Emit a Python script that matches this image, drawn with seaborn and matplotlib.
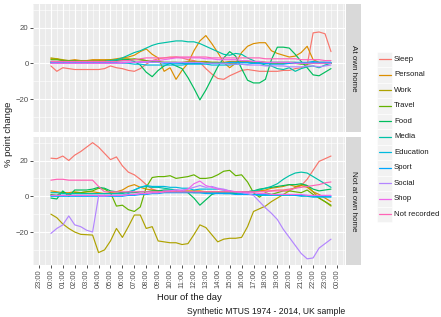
import matplotlib
matplotlib.use("Agg")
import matplotlib.pyplot as plt
import matplotlib.patches as mpatches
import pandas as pd
import seaborn as sns

# ---------------- data ----------------
times = ["00:00", "00:30", "01:00", "01:30", "02:00", "02:30", "03:00", "03:30",
         "04:00", "04:30", "05:00", "05:30", "06:00", "06:30", "07:00", "07:30",
         "08:00", "08:30", "09:00", "09:30", "10:00", "10:30", "11:00", "11:30",
         "12:00", "12:30", "13:00", "13:30", "14:00", "14:30", "15:00", "15:30",
         "16:00", "16:30", "17:00", "17:30", "18:00", "18:30", "19:00", "19:30",
         "20:00", "20:30", "21:00", "21:30", "22:00", "22:30", "23:00", "23:30"]

categories = ["Sleep", "Personal", "Work", "Travel", "Food", "Media",
              "Education", "Sport", "Social", "Shop", "Not recorded"]
palette = ["#F8766D", "#DB8E00", "#AEA200", "#64B200", "#00BD5C", "#00C1A7",
           "#00BADE", "#00A6FF", "#B385FF", "#EF67EB", "#FF63B6"]
locations = ["At own home", "Not at own home"]

tick_labels = ["23:00", "00:00", "01:00", "02:00", "03:00", "04:00", "05:00",
               "06:00", "07:00", "08:00", "09:00", "10:00", "11:00", "12:00",
               "13:00", "14:00", "15:00", "16:00", "17:00", "18:00", "19:00",
               "20:00", "21:00", "22:00", "23:00", "00:00"]

# At own home
own_sleep = [-1.5, -4.5, -2.5, -3, -3.5, -3.5, -3.5, -3.5,
             -3.5, -3, -1.5, -2.5, -3, -4, -4.5, -3,
             -0.5, 1.5, 2.5, 3, 3.5, 3.5, 3, 2,
             1.5, 0.5, -3, -6, -8.5, -9, -7, -5.5,
             -4, -3.5, -4, -4.5, -4.5, -4.5, -4.5, -4,
             -4, -3, -2.5, -1, 17, 17.5, 16.5, 6.5]
own_personal = [2.5, 2.5, 1.5, 1.5, 2, 1.5, 1.5, 2,
                2, 2, 2, 2.5, 3, 3.5, 4.5, 6.5,
                8, 5, 3, -4.5, -2.5, -9, -4, 0,
                7, 12.5, 15.5, 11, 6, 0.5, -2.5, 0,
                6, 9.5, 11, 11.5, 11.5, 7, 5.5, 4.5,
                3.5, 4, 6, 9.5, 2, 0.5, 0.5, 0]
own_work = [3, 2.5, 2, 1.5, 1.5, 1.5, 1.5, 1.5,
            1.5, 1.5, 2, 2, 2.5, 2.5, 2, 2,
            1.5, 1, 1, 0.5, 0.5, 0.5, 0.5, 1,
            1, 1, 1, 0.5, 0.5, 0.5, 1, 1,
            1, 1, 1, 1, 0.5, 0.5, 0.5, 0.5,
            0.5, 0.5, 0, 0, 0, 0, 0, 0]
own_travel = [2, 2, 1.5, 1.5, 1.5, 1, 1, 1,
              1, 1, 1.5, 1.5, 1.5, 2, 2.5, 2,
              1.5, 1, 0.5, 0.5, 0.5, 0.5, 0, 0,
              0, 0, 0.5, 0.5, 0.5, 0, 0, 0,
              0.5, 0.5, 0.5, 0.5, 0.5, 0, 0, 0,
              0, 0, -0.5, -0.5, 0, 0, 0, 0]
own_food = [0.5, 0.5, 0.5, 0.5, 0.5, 0.5, 0.5, 0.5,
            0.5, 1, 1, 1.5, 2, 2, 1, -1,
            -5, -7.5, -4, -1.5, 0, -1.5, -3, -8,
            -14, -20.5, -15, -8.5, -2, 3, 6.5, 4,
            -3, -9.5, -11, -11, -9, 2, 9, 9,
            8.5, 5, 1, -2.5, -6.5, -7, -5, -3]
own_media = [1, 1, 1, 1, 1, 1, 1, 1,
             1, 1, 1.5, 2, 3, 4.5, 6, 7,
             8.5, 10, 11, 11.5, 12, 12.5, 12.5, 12,
             12, 11, 9.5, 8, 6.5, 5, 4.5, 5.5,
             5, 3, 1.5, 0, -1, -1.5, -3, -3.5,
             -2.5, -4.5, -3, -2, -1.5, -2.5, -1, 0]
own_education = [0, 0, 0, 0, 0, 0, 0, 0,
                 0, 0, 0, 0, 0, 0, -0.5, -0.5,
                 -1, -1, -1, -1, -1, -1, -1, -0.5,
                 -0.5, -0.5, -0.5, -1, -1, -1, -1, -0.5,
                 -0.5, -0.5, 0, 0, 0, 0.5, 0.5, 0.5,
                 0.5, 0.5, 0.5, 0.5, 1, 0.5, 0.5, 0.5]
own_sport = [0.5, 0.5, 0.5, 0.5, 0.5, 0.5, 0.5, 0.5,
             0.5, 0.5, 0.5, 0.5, 0.5, 0.5, 0.5, 0.5,
             0.5, 0.5, 0.5, 0, 0, 0, 0, 0,
             0, 0, 0, 0, 0, 0, 0.5, 0.5,
             0.5, 0.5, 0, 0, 0, -0.5, -0.5, -0.5,
             0, 0, 0, 0, 0.5, 0.5, 0.5, 0.5]
own_social = [0, 0, 0, 0, 0, 0, 0, 0,
              0, 0, 0, 0, 0, 0.5, 0.5, 0.5,
              0.5, 0.5, 0.5, 0.5, 0.5, 0.5, 0.5, 0.5,
              0.5, 0.5, 0, 0, 0, 0, -0.5, -0.5,
              -0.5, -1, -1, -1, -1.5, -1.5, -1.5, -1.5,
              -2, -2, -2, -1.5, -1.5, -2, -1.5, -1]
own_shop = [0, 0, 0, 0, 0, 0, 0, 0,
            0, 0, 0, 0, 0.5, 0.5, 0.5, 1,
            1, 1.5, 1.5, 2, 2.5, 3, 3, 3,
            3, 3, 2.5, 2.5, 2, 2, 2, 2,
            1.5, 1.5, 1, 1, 0.5, 0.5, 0.5, 0.5,
            0.5, 0, 0, 0, 0, 0, 0, 0]
own_notrec = [1, 1, 1, 1, 1, 1, 1, 1,
              1, 1, 1, 1, 1.5, 1.5, 2, 2.5,
              3, 3, 3, 3, 3, 3.5, 3.5, 3.5,
              3.5, 3.5, 3.5, 3, 3, 3, 3, 3,
              3, 3, 3, 3, 2.5, 2.5, 2.5, 2.5,
              2.5, 2.5, 2, 2, 2, 2, 1.5, 1.5]

# Not at own home
away_sleep = [21.3, 21, 22.5, 20, 23, 25, 27.5, 30,
              27.5, 24, 20.5, 22, 17, 13.5, 12, 9.5,
              6.5, 4, 3, 2.5, 2.5, 2.5, 2.5, 2.5,
              2.5, 2.5, 2.5, 2.5, 2.5, 2.5, 2.5, 2.5,
              2.5, 2.5, 3, 3, 3, 3, 3.5, 3.5,
              4, 4.5, 6, 9.5, 14.5, 19.5, 21, 22.5]
away_personal = [3, 2.5, 2, 2, 2.5, 2, 2.5, 2.5,
                 2, 1.5, 2, 2.5, 3.5, 5.5, 6.5, 5,
                 4, 3.5, 3, 3, 3, 3, 3, 3,
                 3, 3, 2.5, 2.5, 2.5, 2.5, 2.5, 2.5,
                 2.5, 2.5, 2.5, 3, 3.5, 4.5, 5, 5.5,
                 6.5, 5.5, 6, 5, 2.5, 1, -1, -3]
away_work = [-10, -12, -15.5, -18, -20, -21.3, -21.5, -21.7,
             -31.5, -30, -25, -18, -23, -17, -10.5, -10.5,
             -18, -17, -25, -25.5, -26, -26, -27, -26.5,
             -21.5, -16, -17.5, -21.5, -25.5, -24, -23.5, -23.5,
             -23, -17, -8.5, -7, -5.5, -3, -1, 1,
             3, 5, 6.5, 6, 2.5, -1, -3, -5.5]
away_travel = [1, 0.5, 2.5, 1, 2, 2, 2.5, 3,
               4.5, 4, 2, -5.5, -5, -7.5, -8.5, -6,
               5, 10.5, 11, 11, 11.5, 10, 10.5, 11,
               12, 10, 10, 10.5, 12, 14, 14.5, 11.5,
               12, 8, 2, -0.5, 2, 1, 2, 3,
               3, 2.5, 2, 3.5, 1, -1, -3, -5]
away_food = [-1, -1.5, 3, 0, 3.5, 3.5, 3.5, 4,
             5, 4.5, 3, 2.5, 2, 2, 2, 2.5,
             2.5, 3, 3, 3.5, 3.5, 3, 3, 2,
             -1, -5, -2, 1, 2, 1.5, 1.5, 1.5,
             2, 2.5, 3, 4, 4.5, 5, 5.5, 6,
             6.5, 6.5, 7, 6, 4, 3, 3.5, 4]
away_media = [2, 2, 1.5, 1.5, 1.5, 1.5, 1.5, 1.5,
              1.5, 1.5, 1.5, 1.5, 1.5, 2.5, 3.5, 5,
              5.5, 5, 5, 4.5, 4, 3.5, 3, 2.5,
              2, 2, 2, 2, 2, 2, 2, 2,
              2, 2.5, 3, 3.5, 4.5, 5.5, 7, 9.5,
              11.5, 13, 13.5, 13, 11, 9, 7, 5]
away_education = [0.5, 0.5, 0.5, 0.5, 0.5, 0.5, 0.5, 0.5,
                  0.5, 0.5, 0.5, 0.5, 0.5, 1.5, 3.5, 5,
                  6, 5.5, 5.5, 5.5, 5, 5, 4.5, 4.5,
                  3.5, 4, 4, 4, 4, 3.5, 3, 2,
                  1.5, 1, 1, 0.5, 0.5, 0.5, 0.5, 0.5,
                  0.5, 0.5, 0, 0, -0.5, -0.5, -0.5, -0.5]
away_sport = [0, 0, 0, 0, 0, 0, 0, 0,
              0, 0, 0, 0, 0, 0.5, 0.5, 1,
              1, 1.5, 1.5, 2, 2, 2, 2, 2,
              2, 2, 1.5, 1.5, 1.5, 1.5, 1.5, 1,
              1, 1, 1, 1, 1, 1, 1, 1,
              1, 0.5, 0.5, 0.5, 0, 0, 0, 0]
away_social = [-20.8, -18, -16, -11, -16, -17, -19, -20,
               0, 0, 0.5, 0.5, 0.5, 1, 1, 1.5,
               1.5, 2, 2, 3, 3, 3.5, 3.5, 4,
               5, 6, 5, 5.5, 4.5, 4, 3, 2.5,
               2, 1.5, 0.5, -3, -6.5, -9.5, -13, -18.5,
               -23, -27.5, -32, -35, -34.5, -29, -26.5, -24]
away_shop = [0.5, 0.5, 0.5, 0.5, 0.5, 0.5, 0.5, 0.5,
             0.5, 0.5, 0.5, 0.5, 0.5, 1, 1, 1.5,
             1.5, 2, 2, 2.5, 3, 3.5, 3, 4,
             7, 8.5, 6, 5, 4, 3.5, 3, 2.5,
             2.5, 2, 2, 1.5, 1.5, 1, 1, 1,
             1, 1, 1, 0.5, 0.5, 0.5, 0.5, 0.5]
away_notrec = [9, 9.5, 9.5, 9, 9, 9, 9, 9,
               5.5, 2.5, 2.5, 2.5, 2.5, 2.5, 2.5, 2.5,
               2.5, 2.5, 2.5, 2.5, 2.5, 2.5, 2.5, 2.5,
               2.5, 2.5, 2.5, 2.5, 2.5, 2.5, 2.5, 2.5,
               2.5, 2.5, 2.5, 2.5, 2.5, 3, 3, 3,
               3.5, 4.5, 5, 5.5, 6, 6.5, 7.5, 8]

own_series = [own_sleep, own_personal, own_work, own_travel, own_food, own_media,
              own_education, own_sport, own_social, own_shop, own_notrec]
away_series = [away_sleep, away_personal, away_work, away_travel, away_food, away_media,
               away_education, away_sport, away_social, away_shop, away_notrec]

hours = [int(t[:2]) + int(t[3:]) / 60 for t in times]
rows = []
for loc, series in zip(locations, [own_series, away_series]):
    for cat, vals in zip(categories, series):
        for h, v in zip(hours, vals):
            rows.append({"location": loc, "activity": cat, "hour": h, "change": v})
df = pd.DataFrame(rows)

# ---------------- figure ----------------
sns.set_theme(style="darkgrid")
plt.rcParams["font.family"] = ["Liberation Sans", "DejaVu Sans"]

W, H = 441, 317
fig = plt.figure(figsize=(W / 100, H / 100), dpi=100)
fig.patch.set_facecolor("white")

def px_axes(x0, y0, x1, y1):
    return fig.add_axes([x0 / W, 1 - y1 / H, (x1 - x0) / W, (y1 - y0) / H])

panel_boxes = [(33, 4, 345, 132), (33, 137, 345, 265)]
xlim = (-1.175, 24.675)
ylim = (-38.45, 33.15)
grey30 = "#4D4D4D"

for i, (loc, box) in enumerate(zip(locations, panel_boxes)):
    ax = px_axes(*box)
    ax.set_facecolor("#EBEBEB")
    sub = df[df["location"] == loc]
    sns.lineplot(data=sub, x="hour", y="change", hue="activity",
                 hue_order=categories, palette=palette, ax=ax,
                 legend=False, linewidth=0.85, estimator=None)
    ax.set_xlim(*xlim)
    ax.set_ylim(*ylim)
    ax.set_xticks(range(-1, 25))
    ax.set_xticks([k + 0.5 for k in range(-2, 25)], minor=True)
    ax.set_yticks([-20, 0, 20])
    ax.set_yticks([-30, -10, 10, 30], minor=True)
    ax.grid(which="major", color="white", linewidth=0.8)
    ax.grid(which="minor", color="white", linewidth=0.4)
    ax.set_axisbelow(True)
    for s in ax.spines.values():
        s.set_visible(False)
    ax.set_xlabel("")
    ax.set_ylabel("")
    ax.tick_params(axis="y", which="major", length=2, width=0.6, color="#333333",
                   labelsize=5.6, labelcolor=grey30, pad=1.2, left=True)
    ax.tick_params(which="minor", length=0)
    if i == 1:
        ax.set_xticklabels(tick_labels, rotation=90)
        ax.tick_params(axis="x", which="major", length=2, width=0.6, color="#333333",
                       labelsize=5.4, labelcolor=grey30, pad=1.2, bottom=True)
    else:
        ax.tick_params(axis="x", which="major", length=0, labelbottom=False)
    # strip
    sx = px_axes(346, box[1], 361, box[3])
    sx.set_facecolor("#D9D9D9")
    sx.set_xticks([])
    sx.set_yticks([])
    for s in sx.spines.values():
        s.set_visible(False)
    sx.text(0.5, 0.5, loc, rotation=-90, ha="center", va="center",
            fontsize=5.8, color="#1A1A1A", transform=sx.transAxes)

# legend drawn in pixel coordinates
lg = px_axes(372, 50, 441, 224)
lg.set_xlim(372, 441)
lg.set_ylim(224, 50)
lg.axis("off")
key_y0 = 51.5
key_h = 15.5
for k, (cat, col) in enumerate(zip(categories, palette)):
    yk = key_y0 + k * key_h
    lg.add_patch(mpatches.Rectangle((377, yk), 15, key_h, facecolor="#F2F2F2",
                                    edgecolor="white", linewidth=0.4))
    lg.plot([378.5, 390.5], [yk + key_h / 2, yk + key_h / 2], color=col, linewidth=0.9)
    lg.text(394, yk + key_h / 2, cat, ha="left", va="center", fontsize=5.6, color="#1A1A1A")

fig.text(9 / W, 1 - 134.5 / H, "% point change", rotation=90, ha="center", va="center",
         fontsize=6.8, color="#1A1A1A")
fig.text(189 / W, 1 - 297 / H, "Hour of the day", ha="center", va="center",
         fontsize=6.8, color="#1A1A1A")
fig.text(345 / W, 1 - 312 / H, "Synthetic MTUS 1974 - 2014, UK sample", ha="right",
         va="center", fontsize=6.2, color="#1A1A1A")

fig.savefig("out.png", dpi=100)
